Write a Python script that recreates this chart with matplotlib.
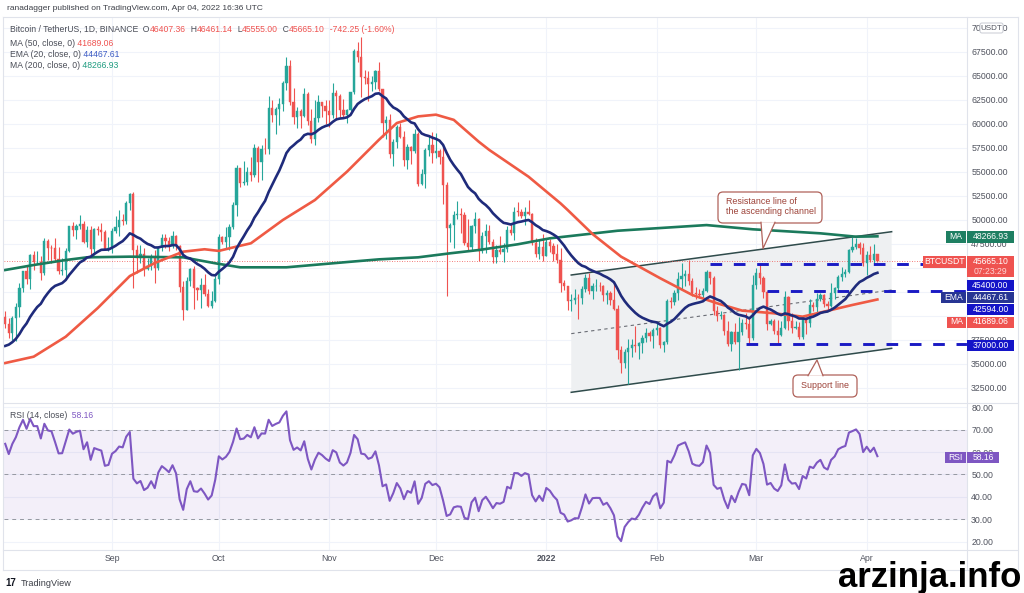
import numpy as np
import pandas as pd
import matplotlib
matplotlib.use('Agg')
import matplotlib.pyplot as plt
from matplotlib.patches import Rectangle, Polygon, FancyBboxPatch
from matplotlib.transforms import IdentityTransform

plt.rcParams['font.family'] = ['Liberation Sans', 'DejaVu Sans']

# ---- data (BTCUSDT 1D) ----
first_day = '2021-08-02'

# July 2021 closes, only used to warm up EMA / RSI (not drawn)
warmup_close = [33540, 33800, 34700, 35290, 33690, 34220, 33860, 32880, 33810, 33510,
                34260, 33090, 32730, 32820, 31780, 31390, 31530, 31780, 30840, 29790,
                32140, 32290, 33640, 34250, 35400, 37340, 39460, 40000, 40020, 42210,
                41460, 39850]

close = [
    # aug
    39147, 38207, 39723, 40867, 42836, 44614, 43792, 46285, 45585, 45593, 44428, 47793, 47097, 47019, 45936,
    44687, 44717, 46760, 49339, 48905, 49321, 49546, 47706, 48960, 46942, 49058, 48897, 48767, 46970, 47100,
    # sep
    48810, 49246, 49999, 49915, 51756, 52663, 46863, 46048, 46395, 44850, 45173, 46026, 44940, 47111, 48121,
    47737, 47299, 48293, 47242, 42961, 40588, 43574, 44895, 42840, 42717, 43208, 42235, 41035, 41564, 43790,
    # oct
    48166, 47666, 48200, 49225, 51494, 55344, 53806, 53967, 54968, 54660, 57472, 56006, 57368, 57347, 61672,
    60876, 61528, 62010, 64262, 65992, 62210, 60692, 61286, 60853, 63078, 60329, 58413, 60575, 62253, 61859, 61300,
    # nov
    60911, 63219, 62896, 61395, 60937, 61470, 63273, 67525, 66947, 64882, 64774, 64122, 64380, 65519, 63606,
    60058, 60344, 56891, 58052, 59707, 58622, 56247, 57541, 57138, 58960, 53726, 54721, 57274, 57776, 56950,
    # dec
    57184, 56480, 53601, 49152, 49396, 50441, 50588, 50471, 47545, 47140, 49389, 50053, 46702, 48343, 48864,
    47632, 46131, 46834, 46681, 46915, 48890, 48588, 50838, 50821, 50429, 50809, 50640, 47588, 46464, 47120, 46216,
    # jan
    47722, 47286, 46446, 45832, 43451, 43082, 41566, 41679, 41864, 41822, 42729, 43902, 42560, 43059, 43084,
    43071, 42201, 42352, 41660, 40680, 36445, 35071, 36244, 36660, 36958, 36809, 37160, 37717, 38166, 37881, 38466,
    # feb
    38690, 36896, 37311, 41574, 41382, 42380, 43840, 44118, 44338, 43565, 42407, 42244, 42197, 42586, 44575,
    43961, 40538, 40003, 40122, 38431, 37075, 38286, 37296, 38332, 39214, 39106, 37700, 43160,
    # mar
    44421, 43892, 42454, 39148, 39398, 38420, 37988, 38730, 41941, 39422, 38730, 38807, 37777, 39671, 39281,
    41114, 40917, 41757, 42201, 41262, 41002, 42364, 42882, 43991, 44313, 44511, 46827, 47122, 47434, 47067, 45510,
    # apr
    46283, 45811, 46407, 45665]

high = [
    40480, 39780, 39970, 41350, 43392, 44700, 45310, 46454, 46700, 46743, 46218, 48144, 48000, 47400, 48053,
    47160, 46000, 47033, 49382, 49757, 49500, 50500, 49875, 49300, 49368, 49185, 49309, 49667, 48900, 48246,
    49156, 50420, 51054, 50558, 51900, 52780, 52920, 47381, 47400, 47033, 45987, 46460, 46880, 47250, 48500,
    48500, 48190, 48843, 48372, 47359, 43639, 44000, 44978, 45200, 42966, 43919, 44350, 42787, 42590, 44141,
    48495, 48336, 49228, 49536, 51886, 55750, 55339, 56100, 55490, 56561, 57839, 57680, 57793, 58550, 62933,
    62488, 61750, 62695, 64486, 67000, 66639, 63732, 61747, 61500, 63710, 63293, 61496, 62499, 62960, 62274, 62437,
    62419, 64270, 63500, 63086, 62595, 61560, 63286, 67789, 68530, 69000, 65600, 65460, 64972, 65550, 66401,
    63617, 60840, 60976, 58370, 59859, 60050, 59266, 57875, 57701, 59398, 59183, 55280, 57445, 58865, 59175,
    59053, 57400, 57600, 53914, 49698, 50891, 51936, 51200, 50797, 50099, 49486, 50777, 50189, 48700, 49500,
    49436, 47995, 47360, 48300, 47537, 49328, 49576, 51375, 51810, 51156, 51280, 52088, 50704, 48139, 47900, 48548,
    47954, 47990, 47570, 47505, 47070, 43748, 43145, 42300, 42786, 42248, 43100, 44322, 44458, 43448, 43800,
    43475, 43176, 42691, 42559, 43505, 41100, 36835, 36499, 37550, 37545, 38919, 37234, 38000, 38720, 38359, 38744,
    39265, 38855, 37387, 41772, 41913, 42656, 44500, 45492, 44799, 45821, 43920, 43000, 42760, 42876, 44775,
    44584, 44164, 40959, 40444, 40125, 39494, 38429, 39249, 39843, 39683, 40300, 39871, 44225,
    44949, 45400, 44101, 42527, 39693, 39695, 39547, 39431, 42594, 42039, 40236, 39486, 39310, 39947, 39887,
    41718, 41478, 42325, 42400, 42300, 41544, 43361, 43025, 44220, 45094, 44817, 46999, 48190, 48096, 47700, 47600,
    46720, 47213, 47444, 46461]

low = [
    38690, 37640, 37508, 37332, 39853, 42446, 43261, 42779, 44800, 45341, 43770, 44254, 45810, 45525, 45660,
    44376, 44216, 43955, 46646, 48286, 48000, 49029, 47600, 47136, 46315, 46364, 48372, 47800, 46856, 46700,
    46513, 48642, 48349, 49400, 49500, 50969, 42843, 44412, 45513, 44132, 44722, 44742, 43370, 44750, 46700,
    47020, 46750, 47047, 46829, 42500, 39600, 40565, 43069, 40675, 41646, 40829, 42098, 40888, 40753, 41410,
    43283, 47430, 47088, 46891, 49000, 50382, 53357, 53617, 53661, 54080, 54415, 53879, 54167, 56818, 56850,
    60150, 58963, 59844, 61322, 63481, 62000, 60000, 59562, 59510, 60650, 59817, 58000, 57820, 60174, 60721, 60000,
    59695, 60624, 60382, 60677, 60721, 60050, 61322, 63125, 66382, 62822, 64100, 62333, 63400, 63576, 63400,
    58574, 58373, 56474, 55600, 57469, 58486, 55610, 55317, 55837, 56952, 53500, 53610, 53256, 56666, 55875,
    56458, 55837, 51680, 42000, 47727, 47100, 50039, 48600, 47320, 46852, 46751, 48638, 45672, 46547, 46547,
    47511, 45456, 45500, 46406, 45558, 46630, 48421, 47920, 50384, 50171, 49412, 50449, 47313, 46096, 45900, 45678,
    46208, 46654, 45696, 45516, 42500, 42645, 40610, 40501, 41200, 39650, 41268, 42450, 42311, 41725, 42555,
    42581, 41540, 41250, 41138, 40553, 35440, 34008, 34601, 32917, 35701, 36234, 35507, 36155, 37268, 37351, 36632,
    38000, 36586, 36250, 37026, 40843, 41116, 41645, 42667, 43117, 43187, 42000, 41748, 41870, 41570, 42427,
    43311, 40073, 39450, 39639, 38000, 36800, 36350, 37036, 34322, 38014, 38600, 37000, 37450,
    42809, 43334, 41832, 38550, 38980, 38088, 37155, 37867, 38656, 38539, 38223, 38660, 37578, 37555, 38098,
    38828, 40500, 40135, 41516, 40911, 40467, 40875, 41751, 42571, 43578, 44072, 44421, 46663, 46950, 46445, 45200,
    44200, 45620, 45530, 45555]

# moving averages
ma50_dates = ['2021-08-02', '2021-08-10', '2021-08-19', '2021-08-28', '2021-09-06', '2021-09-13',
              '2021-09-21', '2021-09-27', '2021-10-01', '2021-10-06', '2021-10-10', '2021-10-19',
              '2021-10-28', '2021-11-06', '2021-11-15', '2021-11-20', '2021-11-26', '2021-12-01',
              '2021-12-06', '2021-12-13', '2021-12-16', '2021-12-27', '2022-01-05', '2022-01-07',
              '2022-01-14', '2022-01-22', '2022-02-02', '2022-02-11', '2022-02-18', '2022-02-25',
              '2022-03-06', '2022-03-14', '2022-03-20', '2022-03-28', '2022-04-04']
ma50_vals = [35070, 35730, 37810, 40800, 44130, 45490, 46670, 46920, 46750, 47200, 47540, 49970,
             52050, 55000, 58330, 60070, 60760, 60940, 60400, 58130, 57260, 54480, 51700, 51010,
             48500, 46150, 43900, 42160, 41290, 40530, 40250, 39900, 40420, 41120, 41689]

ma200_dates = ['2021-08-02', '2021-08-10', '2021-08-19', '2021-08-25', '2021-09-06', '2021-09-21',
               '2021-09-30', '2021-10-07', '2021-10-20', '2021-11-07', '2021-11-15', '2021-11-26',
               '2021-12-05', '2021-12-13', '2021-12-24', '2022-01-02', '2022-01-21', '2022-02-15',
               '2022-02-28', '2022-03-19', '2022-03-29', '2022-04-04']
ma200_vals = [44760, 45280, 45800, 46080, 46150, 46080, 45460, 45040, 45040, 45620, 45870, 46080,
              46500, 46840, 47440, 48060, 48850, 49440, 49000, 48580, 48230, 48267]

month_ticks = ['2021-09-01', '2021-10-01', '2021-11-01', '2021-12-01', '2022-01-01',
               '2022-02-01', '2022-03-01', '2022-04-01']
month_labels = ['Sep', 'Oct', 'Nov', 'Dec', '2022', 'Feb', 'Mar', 'Apr']
price_ticks = np.arange(32500, 70001, 2500)
covered_ticks = [40000, 42500, 45000]   # hidden behind the axis tags
rsi_ticks = [20, 30, 40, 50, 60, 70, 80]

levels = [45400, 42594, 37000]
level_start = ['2022-02-16', '2022-03-04', '2022-02-26']

# ---- derived ----
n = len(close)
d0 = pd.Timestamp(first_day)
def di(s):
    return (pd.Timestamp(s) - d0).days

x = np.arange(n)
c = np.array(close, float)
o = np.array([warmup_close[-1]] + close[:-1], float)
h = np.maximum(np.array(high, float), np.maximum(o, c))
l = np.minimum(np.array(low, float), np.minimum(o, c))

allc = pd.Series(warmup_close + close, dtype=float)
ema20 = allc.ewm(span=20, adjust=False).mean().values[len(warmup_close):]
dlt = allc.diff()
up = dlt.clip(lower=0).ewm(alpha=1/14, adjust=False).mean()
dn = (-dlt).clip(lower=0).ewm(alpha=1/14, adjust=False).mean()
rsi = (100 - 100 / (1 + up / dn)).values[len(warmup_close):]

W, H = 1024, 593
fig = plt.figure(figsize=(W / 100, H / 100), dpi=100)
fig.patch.set_facecolor('white')

def fr(px, py):
    return px / W, 1 - py / H

# pixel -> axes layout
L, R = 4, 967
ax = fig.add_axes([L / W, 1 - 402 / H, (R - L) / W, (402 - 17) / H])
ax2 = fig.add_axes([L / W, 1 - 550 / H, (R - L) / W, (550 - 403) / H], sharex=ax)

px_day = 3.56
x_first = 5.2
ax.set_xlim((L - x_first) / px_day, (R - x_first) / px_day)
ax.set_ylim(31010, 71115)
ax2.set_ylim(16.3, 81.9)

grid_c = '#f0f3fa'
txt_c = '#50535e'
up_c, dn_c = '#26a69a', '#ef5350'

for a in (ax, ax2):
    for s in a.spines.values():
        s.set_visible(False)
    a.set_facecolor('none')
    a.yaxis.tick_right()
    a.tick_params(axis='both', length=0, labelsize=6.3, labelcolor=txt_c, pad=3)
    for m in month_ticks:
        a.axvline(di(m), color=grid_c, lw=0.8, zorder=0)

for p in price_ticks:
    ax.axhline(p, color=grid_c, lw=0.8, zorder=0)
ax.set_yticks(price_ticks)
ax.set_yticklabels(['' if p in covered_ticks else '%.2f' % p for p in price_ticks])
ax.tick_params(axis='x', labelbottom=False)

# ascending channel
ch_x0, ch_x1 = di('2022-01-08'), di('2022-04-08')
ch_up = (44240, 48750)
ch_lo = (32020, 36600)
ax.add_patch(Polygon([(ch_x0, ch_up[0]), (ch_x1, ch_up[1]), (ch_x1, ch_lo[1]), (ch_x0, ch_lo[0])],
                     closed=True, facecolor='#eef0f2', edgecolor='none', zorder=1))
ax.plot([ch_x0, ch_x1], ch_up, color='#2f4b4b', lw=1.1, zorder=2)
ax.plot([ch_x0, ch_x1], ch_lo, color='#2f4b4b', lw=1.1, zorder=2)
ax.plot([ch_x0, ch_x1], [(ch_up[0] + ch_lo[0]) / 2, (ch_up[1] + ch_lo[1]) / 2],
        color='#6a6d75', lw=0.8, ls=(0, (3, 3)), zorder=2)

# candles
col = np.where(c >= o, up_c, dn_c)
ax.vlines(x, l, h, colors=col, lw=0.8, zorder=3)
body = np.maximum(np.abs(c - o), 60)
ax.bar(x, body, bottom=np.minimum(o, c), width=0.62, color=col, edgecolor=col, lw=0.3, zorder=4)

# moving averages
ax.plot([di(d) for d in ma200_dates], ma200_vals, color='#1b7a5c', lw=1.9, zorder=5)
ax.plot([di(d) for d in ma50_dates], ma50_vals, color='#ef5a44', lw=1.9, zorder=5)
ax.plot(x, ema20, color='#1f2b7b', lw=1.9, zorder=6)

# current price line
ax.axhline(c[-1], color='#ef5350', lw=0.6, ls=(0, (1, 2)), zorder=2)

# support / resistance levels
for lv, st in zip(levels, level_start):
    ax.plot([di(st), ax.get_xlim()[1]], [lv, lv], color='#1a1ac4', lw=2.1,
            ls=(0, (4, 4)), zorder=7, solid_capstyle='butt', dash_capstyle='butt')

# RSI pane
for r in rsi_ticks:
    ax2.axhline(r, color=grid_c, lw=0.8, zorder=0)
ax2.axhspan(30, 70, color='#7e57c2', alpha=0.09, lw=0, zorder=1)
for r in (70, 50, 30):
    ax2.axhline(r, color='#9598a1', lw=0.7, ls=(0, (4, 4)), zorder=2)
ax2.plot(x, rsi, color='#7e57c2', lw=1.5, zorder=3)
ax2.set_yticks(rsi_ticks)
ax2.set_yticklabels(['%.2f' % r for r in rsi_ticks])
ax2.set_xticks([di(m) for m in month_ticks])
ax2.set_xticklabels(month_labels)
for t in ax2.get_xticklabels():
    if t.get_text() == '2022':
        t.set_fontweight('bold')

# frame lines
for (x0, y0, x1, y1) in [(3, 17, 1018, 17), (3, 570, 1018, 570), (3, 17, 3, 570), (1018, 17, 1018, 570),
                         (3, 402.5, 1018, 402.5), (3, 550, 1018, 550), (967, 17, 967, 570)]:
    fig.add_artist(plt.Line2D([x0 / W, x1 / W], [1 - y0 / H, 1 - y1 / H], color='#e0e3eb', lw=0.8))

# price axis tags
ident = IdentityTransform()
def tag(x0, x1, y0, y1, color, text, size=6.2):
    fig.add_artist(Rectangle((x0, H - y1), x1 - x0, y1 - y0, transform=ident,
                             facecolor=color, edgecolor='none', zorder=10))
    if text:
        fig.text(*fr((x0 + x1) / 2, (y0 + y1) / 2), text, ha='center', va='center',
                 color='white', fontsize=size, zorder=11)

tag(946, 966, 230.5, 242.5, '#1e7f62', 'MA')
tag(967, 1014, 230.5, 242.5, '#1e7f62', '48266.93')
tag(923, 966, 256, 267.5, '#ef5350', 'BTCUSDT')
tag(967, 1014, 256, 277, '#ef5350', '')
fig.text(*fr(990.5, 261.5), '45665.10', ha='center', va='center', color='white', fontsize=6.2, zorder=11)
fig.text(*fr(990.5, 271.5), '07:23:29', ha='center', va='center', color='#ffd6d6', fontsize=6.2, zorder=11)
tag(967, 1014, 279.5, 290.5, '#1414c8', '45400.00')
tag(941, 966, 291.5, 302.5, '#283593', 'EMA')
tag(967, 1014, 291.5, 302.5, '#283593', '44467.61')
tag(967, 1014, 304, 315, '#1414c8', '42594.00')
tag(947, 966, 316.5, 327.5, '#ef5350', 'MA')
tag(967, 1014, 316.5, 327.5, '#ef5350', '41689.06')
tag(967, 1014, 339.5, 350.5, '#1414c8', '37000.00')
tag(945, 966, 452, 463, '#7e57c2', 'RSI')
tag(967, 999, 452, 463, '#7e57c2', '58.16')

# USDT box
fig.add_artist(FancyBboxPatch((980, H - 33), 23, 10, boxstyle='round,pad=0,rounding_size=2',
                              transform=ident, facecolor='white', edgecolor='#c8cbd3', lw=0.7, zorder=10))
fig.text(*fr(991.5, 28), 'USDT', ha='center', va='center', color=txt_c, fontsize=5.8, zorder=11)

# callouts
def callout(x0, x1, y0, y1, tail, text, tx, ty, ha):
    ec = '#b0625a'
    fig.add_artist(FancyBboxPatch((x0, H - y1), x1 - x0, y1 - y0, boxstyle='round,pad=0,rounding_size=5',
                                  transform=ident, facecolor='white', edgecolor=ec, lw=0.9, zorder=8))
    (bx0, by), (bx1, _), (px, py) = tail
    fig.add_artist(Polygon([(bx0, H - by), (px, H - py), (bx1, H - by)], closed=True, transform=ident,
                           facecolor='white', edgecolor='none', zorder=8.5))
    fig.add_artist(plt.Line2D([bx0, px, bx1], [H - by, H - py, H - by], transform=ident,
                              color=ec, lw=0.9, zorder=8.6))
    fig.text(*fr(tx, ty), text, ha=ha, va='center', multialignment='left',
             color='#9c4036', fontsize=6.4, linespacing=1.15, zorder=9)

callout(718, 822, 192, 223, [(761, 222.3), (775, 222.3), (763, 248.5)],
        'Resistance line of\nthe ascending channel', 726.5, 206.5, 'left')
callout(793, 857, 375, 397, [(808, 375.7), (823, 375.7), (817, 360)], 'Support line', 825, 386, 'center')

# legend texts
renderer = fig.canvas.get_renderer()
def pieces(px, py, parts, size=6.2):
    for s, colr in parts:
        t = fig.text(*fr(px, py), s, color=colr, fontsize=size, va='center', ha='left', zorder=12)
        px += t.get_window_extent(renderer=renderer).width

lc = '#4a4d57'
red = '#ef5350'
fig.text(*fr(7, 8), 'ranadagger published on TradingView.com, Apr 04, 2022 16:36 UTC',
         color='#3c3f47', fontsize=6.0, va='center')
pieces(10, 29.5, [('Bitcoin / TetherUS, 1D, BINANCE', lc), ('  O', lc), ('46407.36', red), ('  H', lc),
                  ('46461.14', red), ('  L', lc), ('45555.00', red), ('  C', lc), ('45665.10', red),
                  ('  -742.25 (-1.60%)', red)])
pieces(10, 43, [('MA (50, close, 0)', lc), (' 41689.06', red)])
pieces(10, 54.5, [('EMA (20, close, 0)', lc), (' 44467.61', '#3b5bc4')])
pieces(10, 65.5, [('MA (200, close, 0)', lc), (' 48266.93', '#1f9c80')])
pieces(10, 415, [('RSI (14, close)', lc), ('  58.16', '#7e57c2')])

# footer
fig.text(*fr(5, 583), '17', color='#131722', fontsize=7, fontweight='bold', va='center')
fig.text(*fr(21, 583), 'TradingView', color='#3c3f47', fontsize=6.6, va='center')
fig.text(*fr(1021, 587), 'arzinja.info', color='black', fontsize=25, fontweight='bold',
         ha='right', va='baseline', zorder=20)

fig.savefig('out.png', dpi=100, facecolor='white')
